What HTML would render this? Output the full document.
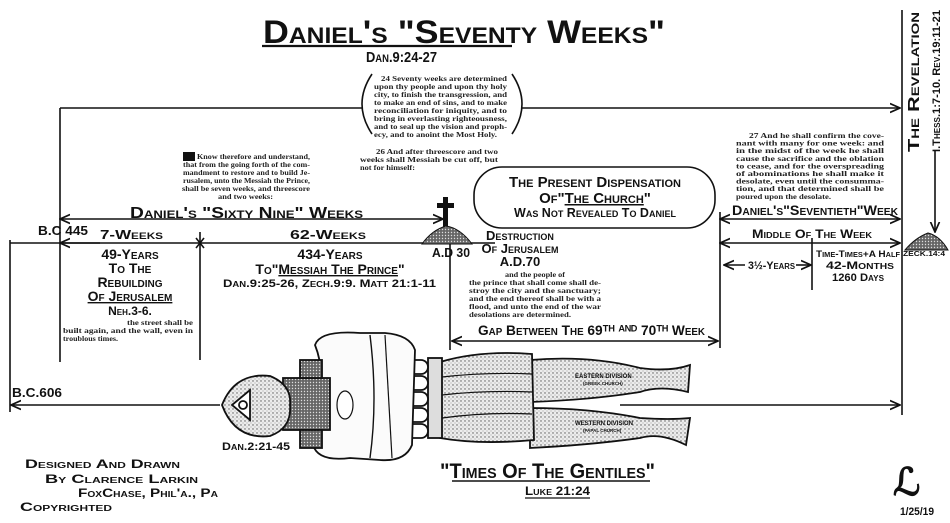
<!DOCTYPE html>
<html><head><meta charset="utf-8"><style>
html,body{margin:0;padding:0;background:#fff;}
svg{display:block}
.h{font-family:"Liberation Sans",sans-serif;font-weight:bold;font-variant:small-caps;fill:#111}
.s{font-family:"Liberation Serif",serif;font-weight:bold;fill:#222;font-size:7.5px}
</style></head><body>
<svg width="950" height="523" viewBox="0 0 950 523" xmlns="http://www.w3.org/2000/svg">
<defs>
<marker id="ar" viewBox="0 0 10 10" refX="9" refY="5" markerWidth="7" markerHeight="7" orient="auto-start-reverse"><path d="M0,1 L9,5 L0,9" fill="none" stroke="#111" stroke-width="1.5"/></marker>
<pattern id="st" width="4" height="4" patternUnits="userSpaceOnUse"><rect width="4" height="4" fill="#ececec"/><circle cx="1" cy="1" r="0.7" fill="#555"/><circle cx="3" cy="3" r="0.5" fill="#888"/></pattern>
<pattern id="dk" width="3" height="3" patternUnits="userSpaceOnUse"><rect width="3" height="3" fill="#666"/><circle cx="1.5" cy="1.5" r="0.7" fill="#ddd"/></pattern>
</defs>
<g stroke="#111" stroke-width="1.6" fill="none">
<line x1="262" y1="46" x2="512" y2="46" stroke-width="2.2"/>
<line x1="60" y1="108" x2="362" y2="108"/>
<line x1="522" y1="108" x2="900" y2="108" marker-end="url(#ar)"/>
<path d="M372 74 Q352 104 372 134"/><path d="M512 74 Q532 104 512 134"/>
<line x1="60" y1="108" x2="60" y2="362"/>
<line x1="10" y1="240" x2="10" y2="412"/>
<line x1="200" y1="232" x2="200" y2="360"/>
<line x1="450" y1="243" x2="450" y2="350"/>
<line x1="720" y1="212" x2="720" y2="348"/>
<line x1="812" y1="238" x2="812" y2="290"/>
<line x1="902" y1="10" x2="902" y2="415"/>
<line x1="935" y1="150" x2="935" y2="232" marker-end="url(#ar)"/>
<line x1="60" y1="219" x2="443" y2="219" marker-start="url(#ar)" marker-end="url(#ar)"/>
<line x1="720" y1="219" x2="900" y2="219" marker-start="url(#ar)" marker-end="url(#ar)"/>
<line x1="10" y1="243" x2="450" y2="243"/>
<line x1="60" y1="243" x2="100" y2="243" marker-start="url(#ar)"/>
<line x1="450" y1="243" x2="495" y2="243"/>
<line x1="720" y1="243" x2="900" y2="243" marker-start="url(#ar)" marker-end="url(#ar)"/>
<line x1="196" y1="238" x2="204" y2="248"/><line x1="204" y1="238" x2="196" y2="248"/>
<line x1="452" y1="341" x2="718" y2="341" marker-start="url(#ar)" marker-end="url(#ar)"/>
<line x1="724" y1="265" x2="745" y2="265" marker-start="url(#ar)"/>
<line x1="796" y1="265" x2="811" y2="265" marker-end="url(#ar)"/>
<line x1="11" y1="405" x2="220" y2="405" marker-start="url(#ar)"/>
<line x1="620" y1="405" x2="900" y2="405" marker-end="url(#ar)"/>
<rect x="474" y="167" width="241" height="61" rx="28"/>
</g>
<rect x="443" y="197" width="5" height="30" fill="#111"/><rect x="437" y="203" width="17" height="5" fill="#111"/>
<path d="M422 244 Q432 230 446 226 Q460 228 472 244 Z" fill="url(#dk)" stroke="#111"/>
<path d="M905 250 Q915 238 928 233 Q940 236 948 250 Z" fill="url(#dk)" stroke="#111"/>

<text x="263" y="43" class="h" font-size="32" textLength="402" lengthAdjust="spacingAndGlyphs">Daniel's "Seventy Weeks"</text>
<text x="366" y="62" class="h" font-size="15" textLength="71" lengthAdjust="spacingAndGlyphs">Dan.9:24-27</text>

<g class="s">
<text x="381" y="81" textLength="126" lengthAdjust="spacingAndGlyphs">24 Seventy weeks are determined</text>
<text x="374" y="89" textLength="133" lengthAdjust="spacingAndGlyphs">upon thy people and upon thy holy</text>
<text x="374" y="97" textLength="133" lengthAdjust="spacingAndGlyphs">city, to finish the transgression, and</text>
<text x="374" y="105" textLength="133" lengthAdjust="spacingAndGlyphs">to make an end of sins, and to make</text>
<text x="374" y="113" textLength="133" lengthAdjust="spacingAndGlyphs">reconciliation for iniquity, and to</text>
<text x="374" y="121" textLength="133" lengthAdjust="spacingAndGlyphs">bring in everlasting righteousness,</text>
<text x="374" y="129" textLength="133" lengthAdjust="spacingAndGlyphs">and to seal up the vision and proph-</text>
<text x="374" y="137" textLength="123" lengthAdjust="spacingAndGlyphs">ecy, and to anoint the Most Holy.</text>
<text x="376" y="154" textLength="122" lengthAdjust="spacingAndGlyphs">26 And after threescore and two</text>
<text x="360" y="162" textLength="138" lengthAdjust="spacingAndGlyphs">weeks shall Messiah be cut off, but</text>
<text x="360" y="170" textLength="55" lengthAdjust="spacingAndGlyphs">not for himself:</text>
<text x="197" y="159" textLength="113" lengthAdjust="spacingAndGlyphs">Know therefore and understand,</text>
<text x="183" y="167" textLength="127" lengthAdjust="spacingAndGlyphs">that from the going forth of the com-</text>
<text x="183" y="175" textLength="127" lengthAdjust="spacingAndGlyphs">mandment to restore and to build Je-</text>
<text x="183" y="183" textLength="127" lengthAdjust="spacingAndGlyphs">rusalem, unto the Messiah the Prince,</text>
<text x="182" y="191" textLength="128" lengthAdjust="spacingAndGlyphs">shall be seven weeks, and threescore</text>
<text x="218" y="199" textLength="55" lengthAdjust="spacingAndGlyphs">and two weeks:</text>
<text x="749" y="138" textLength="135" lengthAdjust="spacingAndGlyphs">27 And he shall confirm the cove-</text>
<text x="736" y="145.6" textLength="148" lengthAdjust="spacingAndGlyphs">nant with many for one week: and</text>
<text x="736" y="153.2" textLength="148" lengthAdjust="spacingAndGlyphs">in the midst of the week he shall</text>
<text x="736" y="160.8" textLength="148" lengthAdjust="spacingAndGlyphs">cause the sacrifice and the oblation</text>
<text x="736" y="168.4" textLength="148" lengthAdjust="spacingAndGlyphs">to cease, and for the overspreading</text>
<text x="736" y="176" textLength="148" lengthAdjust="spacingAndGlyphs">of abominations he shall make it</text>
<text x="736" y="183.6" textLength="148" lengthAdjust="spacingAndGlyphs">desolate, even until the consumma-</text>
<text x="736" y="191.2" textLength="148" lengthAdjust="spacingAndGlyphs">tion, and that determined shall be</text>
<text x="736" y="198.8" textLength="95" lengthAdjust="spacingAndGlyphs">poured upon the desolate.</text>
<text x="127" y="325" textLength="66" lengthAdjust="spacingAndGlyphs">the street shall be</text>
<text x="63" y="333" textLength="130" lengthAdjust="spacingAndGlyphs">built again, and the wall, even in</text>
<text x="63" y="341" textLength="55" lengthAdjust="spacingAndGlyphs">troublous times.</text>
<text x="505" y="277" textLength="60" lengthAdjust="spacingAndGlyphs">and the people of</text>
<text x="469" y="285" textLength="132" lengthAdjust="spacingAndGlyphs">the prince that shall come shall de-</text>
<text x="469" y="293" textLength="132" lengthAdjust="spacingAndGlyphs">stroy the city and the sanctuary;</text>
<text x="469" y="301" textLength="132" lengthAdjust="spacingAndGlyphs">and the end thereof shall be with a</text>
<text x="469" y="309" textLength="132" lengthAdjust="spacingAndGlyphs">flood, and unto the end of the war</text>
<text x="469" y="317" textLength="102" lengthAdjust="spacingAndGlyphs">desolations are determined.</text>
</g>
<rect x="183" y="152" width="12" height="9" fill="#111"/>

<g class="h">
<text x="130" y="218" font-size="16" textLength="233" lengthAdjust="spacingAndGlyphs">Daniel's "Sixty Nine" Weeks</text>
<text x="38" y="235" font-size="13" textLength="50" lengthAdjust="spacingAndGlyphs">B.C 445</text>
<text x="100" y="239" font-size="13" textLength="63" lengthAdjust="spacingAndGlyphs">7-Weeks</text>
<text x="290" y="239" font-size="13" textLength="76" lengthAdjust="spacingAndGlyphs">62-Weeks</text>
<text x="432" y="257" font-size="13" textLength="38" lengthAdjust="spacingAndGlyphs">A.D 30</text>
<g text-anchor="middle" font-size="14">
<text x="130" y="259">49-Years</text>
<text x="130" y="273">To The</text>
<text x="130" y="287">Rebuilding</text>
<text x="130" y="301" text-decoration="underline">Of Jerusalem</text>
<text x="130" y="315" font-size="12">Neh.3-6.</text>
<text x="330" y="259">434-Years</text>
<text x="330" y="274">To"<tspan text-decoration="underline">Messiah The Prince</tspan>"</text>
</g>
<text x="223" y="287" font-size="11" textLength="213" lengthAdjust="spacingAndGlyphs">Dan.9:25-26, Zech.9:9. Matt 21:1-11</text>
<g text-anchor="middle">
<text x="595" y="187" font-size="15">The Present Dispensation</text>
<text x="595" y="203" font-size="15">Of"<tspan text-decoration="underline">The Church</tspan>"</text>
<text x="595" y="217" font-size="12.5">Was Not Revealed To Daniel</text>
<text x="520" y="240" font-size="13">Destruction</text>
<text x="520" y="253" font-size="13">Of Jerusalem</text>
<text x="520" y="266" font-size="13">A.D.70</text>
</g>
<text x="478" y="335" font-size="14" textLength="227" lengthAdjust="spacingAndGlyphs">Gap Between The 69ᵀᴴ ᴬᴺᴰ 70ᵀᴴ Week</text>
<text x="732" y="215" font-size="14" textLength="166" lengthAdjust="spacingAndGlyphs">Daniel's"Seventieth"Week</text>
<text x="752" y="238" font-size="12" textLength="120" lengthAdjust="spacingAndGlyphs">Middle Of The Week</text>
<text x="748" y="269" font-size="11" textLength="47" lengthAdjust="spacingAndGlyphs">3½-Years</text>
<text x="816" y="257" font-size="9.5" textLength="84" lengthAdjust="spacingAndGlyphs">Time-Times+A Half</text>
<text x="826" y="269" font-size="11" textLength="68" lengthAdjust="spacingAndGlyphs">42-Months</text>
<text x="832" y="281" font-size="11" textLength="52" lengthAdjust="spacingAndGlyphs">1260 Days</text>
<text x="903" y="256" font-size="7.5" textLength="42" lengthAdjust="spacingAndGlyphs">ZECK.14:4</text>
<text transform="translate(919,152) rotate(-90)" font-size="16" textLength="140" lengthAdjust="spacingAndGlyphs">The Revelation</text>
<text transform="translate(940,152) rotate(-90)" font-size="11" textLength="142" lengthAdjust="spacingAndGlyphs">I.Thess.1:7-10. Rev.19:11-21</text>
<text x="12" y="397" font-size="13" textLength="50" lengthAdjust="spacingAndGlyphs">B.C.606</text>
<text x="222" y="450" font-size="11" textLength="68" lengthAdjust="spacingAndGlyphs">Dan.2:21-45</text>
<text x="25" y="468" font-size="12" textLength="155" lengthAdjust="spacingAndGlyphs">Designed And Drawn</text>
<text x="45" y="483" font-size="12" textLength="153" lengthAdjust="spacingAndGlyphs">By Clarence Larkin</text>
<text x="78" y="497" font-size="12" textLength="140" lengthAdjust="spacingAndGlyphs">FoxChase, Phil'a., Pa</text>
<text x="20" y="511" font-size="12" textLength="92" lengthAdjust="spacingAndGlyphs">Copyrighted</text>
<text x="440" y="478" font-size="21" textLength="215" lengthAdjust="spacingAndGlyphs">"Times Of The Gentiles"</text>
<text x="525" y="495" font-size="12" textLength="65" lengthAdjust="spacingAndGlyphs">Luke 21:24</text>
<text x="900" y="515" font-size="11" textLength="34" lengthAdjust="spacingAndGlyphs">1/25/19</text>
</g>
<line x1="452" y1="481" x2="650" y2="481" stroke="#111" stroke-width="1.5"/>
<line x1="525" y1="498" x2="590" y2="498" stroke="#111" stroke-width="1.2"/>
<text x="893" y="495" font-family="Liberation Serif,serif" font-size="38" font-weight="bold" fill="#111">ℒ</text>

<g stroke="#111" stroke-width="1.8">
<path d="M530 360 Q590 355 640 368 Q670 372 690 365 L688 392 Q660 385 640 392 Q590 400 530 402 Z" fill="url(#st)"/>
<path d="M530 408 Q590 408 640 418 Q670 420 690 418 L686 445 Q660 432 640 438 Q590 445 530 448 Z" fill="url(#st)"/>
<path d="M440 362 Q480 350 532 354 L534 440 Q480 445 440 438 Z" fill="url(#st)"/>
<path d="M442 377 Q485 372 532 374 M442 395 Q485 390 532 392 M442 418 Q485 412 532 414" fill="none" stroke-width="1.2"/>
<rect x="428" y="358" width="14" height="80" fill="#ddd"/>
<g fill="#fff"><rect x="402" y="360" width="26" height="14" rx="7"/><rect x="402" y="376" width="26" height="14" rx="7"/><rect x="402" y="392" width="26" height="14" rx="7"/><rect x="402" y="408" width="26" height="14" rx="7"/><rect x="402" y="424" width="26" height="14" rx="7"/></g>
<path d="M315 345 Q320 330 360 333 L385 333 Q410 335 415 350 L412 445 Q405 462 380 460 L350 458 Q318 462 313 445 Q325 420 318 398 Q325 370 315 345 Z" fill="#fbfbfb"/>
<path d="M370 335 Q378 400 370 458" fill="none" stroke-width="1.4"/>
<path d="M385 335 L392 458" fill="none" stroke-width="1.2"/>
<rect x="283" y="378" width="47" height="52" fill="url(#dk)"/>
<rect x="300" y="360" width="22" height="18" fill="url(#dk)"/>
<rect x="300" y="430" width="22" height="18" fill="url(#dk)"/>
<path d="M222 405 Q235 372 270 376 Q292 385 290 405 Q292 428 270 436 Q235 440 222 405 Z" fill="url(#st)"/>
<path d="M232 405 L250 390 L250 420 Z" fill="#fff"/>
<circle cx="243" cy="405" r="4" fill="#fff"/>
<ellipse cx="345" cy="405" rx="8" ry="14" fill="#fff" stroke-width="1.2"/>
</g>
<g font-family="Liberation Sans,sans-serif" font-weight="bold" font-size="6" fill="#111">
<text x="575" y="378">EASTERN DIVISION</text>
<text x="583" y="385" font-size="4.5">(GREEK CHURCH)</text>
<text x="575" y="425">WESTERN DIVISION</text>
<text x="583" y="432" font-size="4.5">(PAPAL CHURCH)</text>
</g>
</svg>
</body></html>
